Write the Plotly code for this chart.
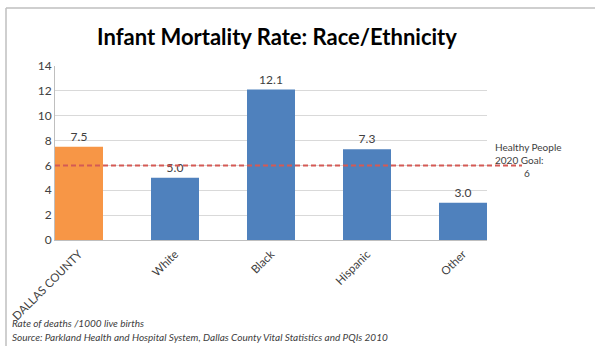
import plotly.graph_objects as go

# Data
categories = ['DALLAS COUNTY', 'White', 'Black', 'Hispanic', 'Other']
rates = [7.5, 5.0, 12.1, 7.3, 3.0]
goal = 6
y_ticks = [0, 2, 4, 6, 8, 10, 12, 14]

W, H = 595, 346
ml, mr, mt, mb = 55, 108, 66, 106
pw, ph = W - ml - mr, H - mt - mb


def px_x(x):
    return (x - ml) / pw


def px_y(y):
    return (H - mb - y) / ph


bar_colors = ['#F79646'] + ['#4F81BD'] * (len(categories) - 1)

fig = go.Figure(data=[go.Bar(
    x=categories, y=rates,
    marker=dict(color=bar_colors, line=dict(width=0)),
    text=['%.1f' % v for v in rates],
    textposition='outside',
    textfont=dict(family='Lato', size=12, color='#404040'),
    cliponaxis=False,
    width=0.5,
)])

fig.update_layout(
    width=W, height=H,
    margin=dict(l=ml, r=mr, t=mt, b=mb, autoexpand=False),
    plot_bgcolor='white', paper_bgcolor='white',
    showlegend=False,
    font=dict(family='Lato', color='#404040'),
    title=dict(text='<b>Infant Mortality Rate: Race/Ethnicity</b>',
               x=px_x(277), xref='paper', xanchor='center',
               y=1 - 37 / H, yanchor='middle',
               font=dict(family='Lato', size=22, color='black')),
    xaxis=dict(range=[-0.25, 4.25], tickangle=-45, showgrid=False, automargin=False,
               showline=True, linecolor='#BFBFBF', ticks='', ticklabelstandoff=2,
               tickfont=dict(family='Lato', size=11.5, color='#404040')),
    yaxis=dict(range=[0, 14], tickvals=y_ticks, gridcolor='#D9D9D9', automargin=False,
               showline=True, linecolor='#BFBFBF', zeroline=False,
               ticks='', ticklen=0,
               tickfont=dict(family='Lato', size=12, color='#404040')),
    shapes=[
        dict(type='line', xref='paper', yref='y', x0=0, x1=px_x(522),
             y0=goal, y1=goal, line=dict(color='#D45A55', width=2, dash='5px,3px')),
        # image frame
        dict(type='line', xref='paper', yref='paper', x0=px_x(6), x1=px_x(595),
             y0=px_y(8), y1=px_y(8), line=dict(color='#BFBFBF', width=1.5)),
        dict(type='line', xref='paper', yref='paper', x0=px_x(6), x1=px_x(6),
             y0=px_y(8), y1=px_y(346), line=dict(color='#BFBFBF', width=1.5)),
    ],
    annotations=[
        dict(text='Healthy People<br>2020 Goal:', xref='paper', yref='paper',
             x=px_x(493), y=px_y(153), xanchor='left', yanchor='middle', align='left',
             showarrow=False, font=dict(family='Lato', size=10, color='#404040')),
        dict(text='6', xref='paper', yref='paper',
             x=px_x(527), y=px_y(173), xanchor='center', yanchor='middle',
             showarrow=False, font=dict(family='Lato', size=10, color='#404040')),
        dict(text='<i>Rate of deaths /1000 live births</i>', xref='paper', yref='paper',
             x=px_x(10), y=px_y(323), xanchor='left', yanchor='middle',
             showarrow=False, font=dict(family='Lato', size=10, color='#404040')),
        dict(text='<i>Source: Parkland Health and Hospital System, Dallas County Vital Statistics and PQIs 2010</i>',
             xref='paper', yref='paper',
             x=px_x(10), y=px_y(337), xanchor='left', yanchor='middle',
             showarrow=False, font=dict(family='Lato', size=10, color='#404040')),
    ],
)

# page body has a default 8px margin; drop it so the figure sits at the corner
fig.write_html('out.html', config={'displayModeBar': False},
               post_script="document.body.style.margin='0px';")
